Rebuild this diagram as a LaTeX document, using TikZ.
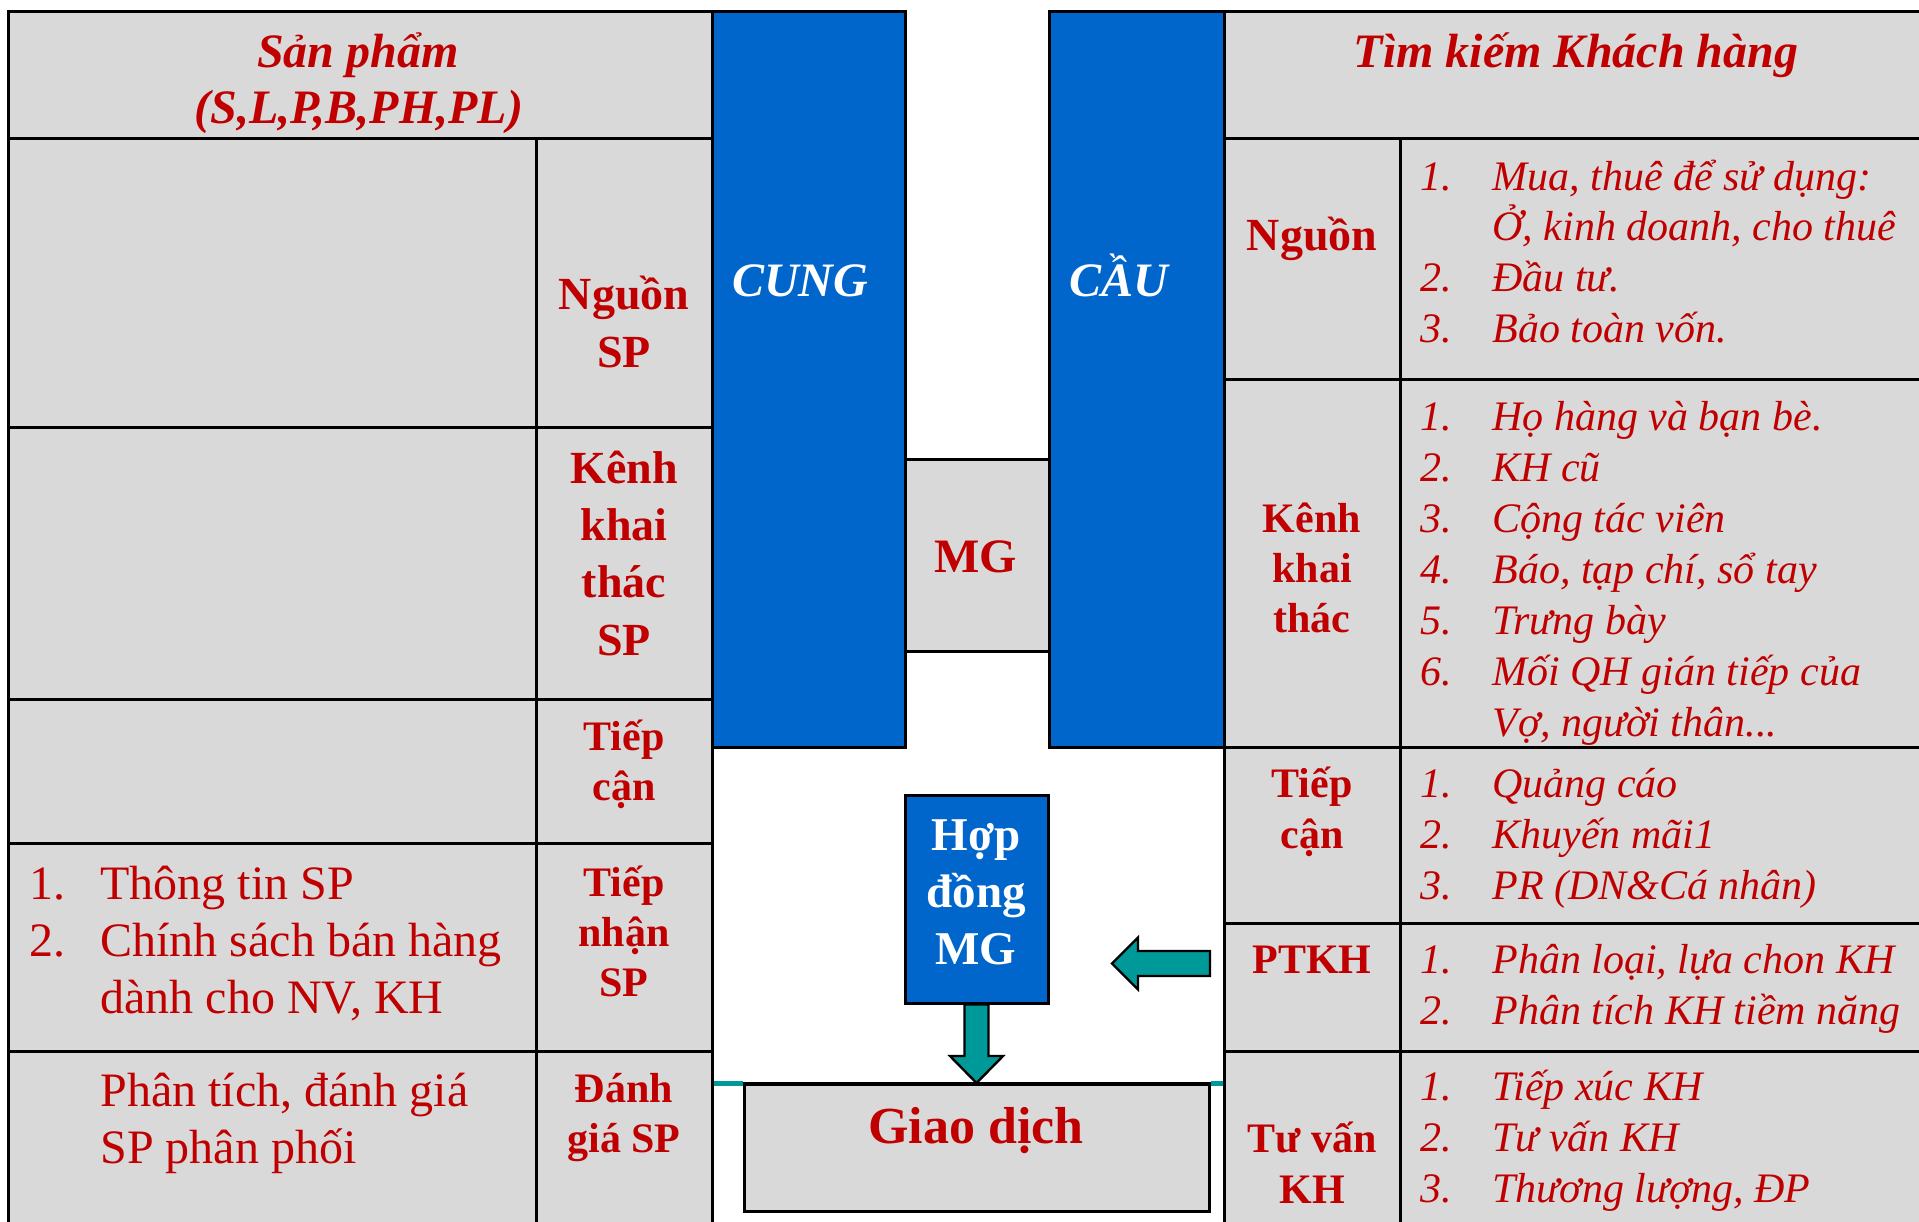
\documentclass[tikz,border=0pt]{standalone}
\usepackage{fontspec}
\setmainfont{Liberation Serif}
\usetikzlibrary{fit,calc}
\definecolor{cellgrey}{HTML}{D9D9D9}
\definecolor{boxblue}{HTML}{0066CC}
\definecolor{txtred}{HTML}{C00000}
\definecolor{arrowteal}{HTML}{009999}

% list rows: number and text at fixed tab stops
\newcommand\ritem[4]{\node[rtext] (#1n) at (1420,#2) {#3};\node[rtext] (#1) at (1492,#2) {#4};}
\newcommand\rcont[3]{\node[rtext] (#1) at (1492,#2) {#3};}
\newcommand\litem[4]{\node[ltext] (#1n) at (29,#2) {#3};\node[ltext] (#1) at (100,#2) {#4};}

\begin{document}
\begin{tikzpicture}[x=0.5pt,y=-0.5pt,
  cellbox/.style={draw=black,line width=1.5pt,fill=cellgrey,inner sep=0pt},
  bluebox/.style={draw=black,line width=1.5pt,fill=boxblue,inner sep=0pt},
  txt/.style={inner sep=0pt,anchor=base,text=txtred},
  hdrtext/.style={txt,font=\fontsize{24}{28}\selectfont\bfseries\itshape},
  lblbig/.style={txt,font=\fontsize{23}{27}\selectfont\bfseries},
  lbl/.style={txt,font=\fontsize{21}{25}\selectfont\bfseries},
  ltext/.style={txt,anchor=base west,font=\fontsize{24}{28}\selectfont},
  rtext/.style={txt,anchor=base west,font=\fontsize{21}{25}\selectfont\itshape},
  sidetext/.style={inner sep=0pt,anchor=base,text=white,font=\fontsize{24}{28}\selectfont\bfseries\itshape},
  hdtext/.style={inner sep=0pt,anchor=base,text=white,font=\fontsize{23.5}{28}\selectfont\bfseries},
  fatarrow/.style={draw=black,line width=1.2pt,fill=arrowteal,line join=miter},
  tealrule/.style={arrowteal,line width=2.4pt},
]
\useasboundingbox[fill=white] (0,0) rectangle (1919,1222);

% ---- supply side table ----
\node[cellbox,fit={(8.5,11.5) (712,138)}] (lhead) {};
\node[cellbox,fit={(8.5,138) (536,427)}] (lsrcA) {};
\node[cellbox,fit={(536,138) (712,427)}] (lsrcB) {};
\node[cellbox,fit={(8.5,427) (536,699)}] (lchA) {};
\node[cellbox,fit={(536,427) (712,699)}] (lchB) {};
\node[cellbox,fit={(8.5,699) (536,843)}] (lapA) {};
\node[cellbox,fit={(536,699) (712,843)}] (lapB) {};
\node[cellbox,fit={(8.5,843) (536,1051)}] (lrcA) {};
\node[cellbox,fit={(536,843) (712,1051)}] (lrcB) {};
\node[cellbox,fit={(8.5,1051) (536,1235)}] (levA) {};
\node[cellbox,fit={(536,1051) (712,1235)}] (levB) {};

% ---- demand side table ----
\node[cellbox,fit={(1224,11.5) (1935,138)}] (rhead) {};
\node[cellbox,fit={(1224,138) (1400,379)}] (rsrcA) {};
\node[cellbox,fit={(1400,138) (1935,379)}] (rsrcB) {};
\node[cellbox,fit={(1224,379) (1400,747)}] (rchA) {};
\node[cellbox,fit={(1400,379) (1935,747)}] (rchB) {};
\node[cellbox,fit={(1224,747) (1400,923)}] (rapA) {};
\node[cellbox,fit={(1400,747) (1935,923)}] (rapB) {};
\node[cellbox,fit={(1224,923) (1400,1051)}] (rptA) {};
\node[cellbox,fit={(1400,923) (1935,1051)}] (rptB) {};
\node[cellbox,fit={(1224,1051) (1400,1235)}] (rtvA) {};
\node[cellbox,fit={(1400,1051) (1935,1235)}] (rtvB) {};

% ---- centre blocks ----
\node[bluebox,fit={(712,11.5) (905,747)}] (cung) {};
\node[bluebox,fit={(1049,11.5) (1224,747)}] (cau) {};
\node[cellbox,fit={(905,459) (1049,651)}] (mg) {};

\node[cellbox,fit={(744,1084.5) (1209,1211)}] (gd) {};
\node[bluebox,fit={(905,795) (1048,1003)}] (hd) {};

% teal rule meeting the transaction box on both sides
\draw[tealrule] (lrcB.east |- 0,1083.5) -- (gd.west |- 0,1083.5);
\draw[tealrule] (gd.east |- 0,1083.5) -- (rtvA.west |- 0,1083.5);
\draw[black,line width=1.5pt] (gd.north west) -- (gd.north east);

% contract -> transaction
\draw[fatarrow]
  ($(hd.south)+(-12,0)$) -- ($(gd.north)+(-12,-27)$) -- ($(gd.north)+(-26.5,-27)$)
  -- (gd.north) -- ($(gd.north)+(26.5,-27)$) -- ($(gd.north)+(12,-27)$)
  -- ($(hd.south)+(12,0)$) -- cycle;

% customer analysis -> contract
\coordinate (latail) at (1210,963.5);
\coordinate (latip) at (1112,963.5);
\draw[fatarrow]
  ($(latail)+(0,-12.5)$) -- ($(latip)+(26,-12.5)$) -- ($(latip)+(26,-26)$)
  -- (latip) -- ($(latip)+(26,26)$) -- ($(latip)+(26,12.5)$)
  -- ($(latail)+(0,12.5)$) -- cycle;

% ---- texts: centre ----
\node[sidetext] (tcung) at (800,296) {CUNG};
\node[sidetext] (tcau) at (1119,296) {CẦU};
\node[txt,font=\fontsize{24}{28}\selectfont\bfseries] (tmg) at (976,572) {MG};
\node[hdtext] (thd1) at (976,850) {Hợp};
\node[hdtext] (thd2) at (976,907) {đồng};
\node[hdtext] (thd3) at (976,964) {MG};
\node[txt,font=\fontsize{26}{30}\selectfont\bfseries] (tgd) at (976,1143) {Giao dịch};

% ---- texts: supply side ----
\node[hdrtext] (tlh1) at (358,67) {Sản phẩm};
\node[hdrtext] (tlh2) at (359,123) {(S,L,P,B,PH,PL)};
\node[lblbig] (tls1) at (624,309) {Nguồn};
\node[lblbig] (tls2) at (624,367) {SP};
\node[lblbig] (tlc1) at (624,483) {Kênh};
\node[lblbig] (tlc2) at (624,540) {khai};
\node[lblbig] (tlc3) at (624,597) {thác};
\node[lblbig] (tlc4) at (624,655) {SP};
\node[lbl] (tla1) at (624,750) {Tiếp};
\node[lbl] (tla2) at (624,800) {cận};
\node[lbl] (tlr1) at (624,896) {Tiếp};
\node[lbl] (tlr2) at (624,946) {nhận};
\node[lbl] (tlr3) at (624,996) {SP};
\node[lbl] (tle1) at (624,1102) {Đánh};
\node[lbl] (tle2) at (624,1152) {giá SP};
\litem{li1}{899}{1.}{Thông tin SP}
\litem{li2}{956}{2.}{Chính sách bán hàng}
\node[ltext] (li3) at (100,1013) {dành cho NV, KH};
\node[ltext] (li4) at (100,1106) {Phân tích, đánh giá};
\node[ltext] (li5) at (100,1163) {SP phân phối};

% ---- texts: demand side ----
\node[hdrtext] (trh) at (1576,67) {Tìm kiếm Khách hàng};
\node[lblbig] (trs) at (1312,250) {Nguồn};
\node[lbl] (trc1) at (1312,532) {Kênh};
\node[lbl] (trc2) at (1312,582) {khai};
\node[lbl] (trc3) at (1312,632) {thác};
\node[lbl] (tra1) at (1312,797) {Tiếp};
\node[lbl] (tra2) at (1312,848) {cận};
\node[lbl] (trp) at (1312,973) {PTKH};
\node[lbl] (trt1) at (1312,1152) {Tư vấn};
\node[lbl] (trt2) at (1312,1203) {KH};

\ritem{rs1}{190}{1.}{Mua, thuê để sử dụng:}
\rcont{rs1b}{240}{Ở, kinh doanh, cho thuê}
\ritem{rs2}{291}{2.}{Đầu tư.}
\ritem{rs3}{342}{3.}{Bảo toàn vốn.}

\ritem{rc1}{430}{1.}{Họ hàng và bạn bè.}
\ritem{rc2}{481}{2.}{KH cũ}
\ritem{rc3}{532}{3.}{Cộng tác viên}
\ritem{rc4}{583}{4.}{Báo, tạp chí, sổ tay}
\ritem{rc5}{634}{5.}{Trưng bày}
\ritem{rc6}{685}{6.}{Mối QH gián tiếp của}
\rcont{rc6b}{736}{Vợ, người thân...}

\ritem{ra1}{797}{1.}{Quảng cáo}
\ritem{ra2}{848}{2.}{Khuyến mãi1}
\ritem{ra3}{899}{3.}{PR (DN\&Cá nhân)}

\ritem{rp1}{973}{1.}{Phân loại, lựa chon KH}
\ritem{rp2}{1024}{2.}{Phân tích KH tiềm năng}

\ritem{rt1}{1100}{1.}{Tiếp xúc KH}
\ritem{rt2}{1151}{2.}{Tư vấn KH}
\ritem{rt3}{1202}{3.}{Thương lượng, ĐP}
\end{tikzpicture}
\end{document}
